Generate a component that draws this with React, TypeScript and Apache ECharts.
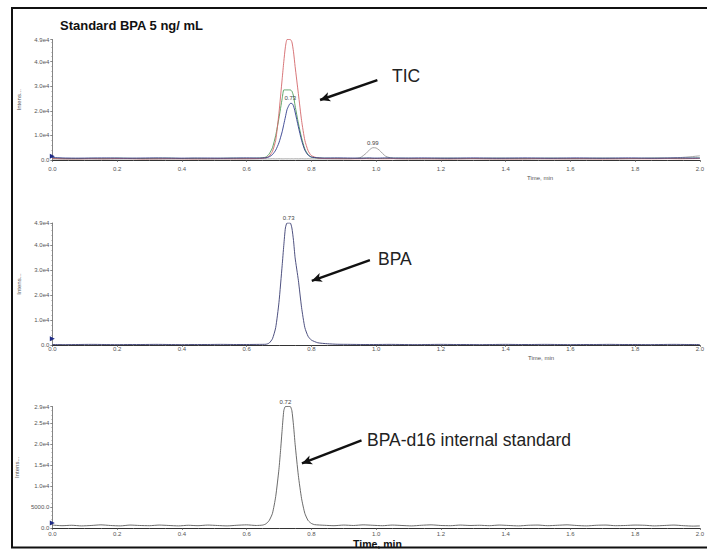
import React, { useEffect, useRef } from "react";
import * as echarts from "echarts";

// ---------- Panel 1: TIC ----------
const TOP_TIME = [
  0, 0.04, 0.08, 0.12, 0.16, 0.2, 0.24, 0.28, 0.32, 0.36, 0.4, 0.44, 0.48, 0.52, 0.56, 0.6, 0.64,
  0.66, 0.67, 0.68, 0.69, 0.7, 0.71, 0.715, 0.72, 0.725, 0.73, 0.735, 0.74, 0.745, 0.75, 0.76, 0.77, 0.78, 0.79, 0.8, 0.82, 0.84,
  0.88, 0.92, 0.95, 0.97, 0.98, 0.99, 1.0, 1.01, 1.03, 1.06,
  1.1, 1.14, 1.18, 1.22, 1.26, 1.3, 1.34, 1.38, 1.42, 1.46, 1.5, 1.54, 1.58, 1.62, 1.66, 1.7, 1.74, 1.78, 1.82, 1.86, 1.9, 1.94,
  1.97, 2.0,
];
const TIC_RED = [
  600, 500, 450, 550, 500, 600, 550, 450, 500, 550, 500, 450, 500, 550, 500, 550, 600,
  900, 1600, 3500, 8000, 19000, 33000, 40000, 46000, 49000, 49000, 49000, 48000, 44000, 38000, 27000, 16000, 8000, 3800, 1800, 800, 600,
  550, 500, 500, 550, 500, 500, 550, 500, 500, 550,
  500, 550, 500, 450, 500, 550, 500, 500, 450, 500, 550, 500, 500, 550, 500, 450, 500, 550, 500, 500, 550, 500,
  550, 600,
];
const TIC_GREEN = [
  700, 600, 550, 650, 600, 700, 650, 600, 650, 700, 600, 650, 600, 650, 700, 650, 750,
  1200, 2500, 5000, 10000, 17000, 25000, 28500, 28500, 28500, 28500, 28500, 28000, 26000, 22000, 15000, 9000, 4500, 2200, 1200, 800, 700,
  650, 600, 650, 700, 650, 600, 650, 600, 650, 700,
  650, 600, 650, 700, 650, 600, 650, 700, 650, 600, 650, 700, 650, 600, 650, 700, 650, 600, 650, 700, 650, 600,
  700, 800,
];
const TIC_BLUE = [
  1000, 800, 750, 800, 850, 800, 750, 800, 850, 800, 750, 800, 800, 750, 800, 850, 800,
  900, 1300, 2200, 4000, 7000, 11500, 14500, 17500, 20500, 22000, 23000, 23000, 22000, 19500, 13500, 8000, 4000, 2000, 1200, 900, 800,
  850, 800, 750, 800, 850, 800, 750, 800, 850, 800,
  800, 850, 800, 750, 800, 850, 800, 750, 800, 850, 800, 750, 800, 850, 800, 750, 800, 850, 800, 750, 800, 850,
  800, 800,
];
const TIC_GRAY = [
  400, 350, 450, 400, 350, 400, 450, 400, 350, 400, 450, 400, 350, 400, 450, 400, 450,
  450, 450, 500, 450, 500, 450, 450, 500, 450, 500, 450, 500, 450, 500, 450, 500, 450, 500, 450, 450, 450,
  450, 500, 900, 2800, 4200, 5000, 4900, 4000, 1500, 500,
  450, 400, 450, 400, 450, 500, 450, 400, 450, 400, 450, 500, 450, 400, 450, 500, 450, 500, 600, 700, 800, 1000,
  1300, 1700,
];

// ---------- Panel 2: BPA ----------
const MID_TIME = [
  0, 0.04, 0.08, 0.12, 0.16, 0.2, 0.24, 0.28, 0.32, 0.36, 0.4, 0.44, 0.48, 0.52, 0.56, 0.6, 0.64,
  0.66, 0.67, 0.68, 0.69, 0.7, 0.71, 0.715, 0.72, 0.725, 0.73, 0.735, 0.74, 0.745, 0.75, 0.76, 0.77, 0.78, 0.79, 0.8, 0.82, 0.85, 0.88,
  0.92, 0.96, 1.0, 1.04, 1.08, 1.12, 1.16, 1.2, 1.24, 1.28, 1.32, 1.36, 1.4, 1.44, 1.48, 1.52, 1.56, 1.6, 1.64, 1.68, 1.72, 1.76, 1.8, 1.84, 1.88, 1.92, 1.96, 2.0,
];
const MID_BPA = [
  200, 150, 200, 250, 200, 150, 200, 200, 250, 200, 150, 200, 200, 250, 200, 200, 250,
  300, 800, 2500, 7000, 17000, 32000, 40000, 47000, 49000, 49000, 49000, 47000, 42000, 35000, 26000, 15000, 7000, 3500, 2000, 900, 500, 300,
  250, 200, 200, 250, 200, 150, 200, 250, 200, 200, 150, 200, 250, 200, 200, 250, 200, 150, 200, 200, 250, 200, 200, 150, 200, 250, 200, 200,
];

// ---------- Panel 3: BPA-d16 ----------
const BOT_TIME = [
  0, 0.03, 0.06, 0.09, 0.12, 0.15, 0.18, 0.21, 0.24, 0.27, 0.3, 0.33, 0.36, 0.39, 0.42, 0.45, 0.48, 0.51, 0.54, 0.57, 0.6, 0.63,
  0.65, 0.66, 0.67, 0.68, 0.69, 0.7, 0.705, 0.71, 0.715, 0.72, 0.725, 0.73, 0.735, 0.74, 0.745, 0.75, 0.76, 0.77, 0.78, 0.79, 0.8, 0.81,
  0.84, 0.87, 0.9, 0.93, 0.96, 0.99, 1.02, 1.05, 1.08, 1.11, 1.14, 1.17, 1.2, 1.23, 1.26, 1.29, 1.32, 1.35, 1.38, 1.41, 1.44, 1.47, 1.5,
  1.53, 1.56, 1.59, 1.62, 1.65, 1.68, 1.71, 1.74, 1.77, 1.8, 1.83, 1.86, 1.89, 1.92, 1.95, 1.98, 2.0,
];
const BOT_D16 = [
  700, 550, 650, 500, 600, 750, 600, 500, 700, 600, 550, 700, 600, 500, 650, 550, 700, 600, 500, 650, 750, 600,
  700, 1000, 1800, 3500, 7500, 14000, 18500, 23500, 28000, 29000, 29000, 29000, 29000, 28000, 24500, 20000, 12500, 7000, 3500, 1800, 1100, 800,
  650, 550, 700, 600, 750, 650, 550, 700, 600, 500, 650, 750, 600, 550, 700, 600, 650, 550, 700, 600, 500, 650, 700,
  550, 650, 750, 600, 500, 650, 700, 550, 600, 700, 650, 500, 600, 700, 550, 450, 500,
];

const X_TICK_STEP = 0.2;
const Y_MAX = [49000, 49000, 29000];
const Y_STEP = [10000, 10000, 5000];

const pairs = (t: number[], v: number[]) => t.map((x, i) => [x, v[i]]);

const fmtY = (v: number) => {
  if (v === 0) return "0.0";
  if (v < 10000) return v.toFixed(1);
  return (v / 10000).toFixed(1) + "e4";
};

const FONT = '"Liberation Sans", Arial, sans-serif';

export default function App() {
  const ref = useRef<HTMLDivElement>(null);
  useEffect(() => {
    if (!ref.current) return;
    const chart = echarts.init(ref.current, null, { renderer: "svg" });
    const grids = [
      { left: 52.3, right: 1.5, top: 39.5, height: 120.5 },
      { left: 52.3, right: 1.5, top: 223, height: 122 },
      { left: 52.3, right: 1.5, top: 406.5, height: 121.5 },
    ];
    const xMargins = [5.5, 1, 3];
    const xAxis = grids.map((_, i) => ({
      type: "value",
      gridIndex: i,
      min: 0,
      max: 2,
      interval: X_TICK_STEP,
      axisLine: { show: true, onZero: false, lineStyle: { color: "#333", width: 1 } },
      axisTick: { show: true, length: 2, lineStyle: { color: "#555", width: 0.7 } },
      minorTick: { show: true, splitNumber: 4, length: 1, lineStyle: { color: "#777", width: 0.6 } },
      axisLabel: {
        fontSize: 6,
        color: "#555",
        margin: xMargins[i],
        fontFamily: FONT,
        formatter: (v: number) => v.toFixed(1),
      },
      splitLine: { show: false },
    }));
    const yAxis = grids.map((_, i) => ({
      type: "value",
      gridIndex: i,
      min: 0,
      max: Y_MAX[i],
      interval: Y_STEP[i],
      name: "Intens...",
      nameLocation: "middle",
      nameGap: 30,
      nameRotate: 90,
      nameTextStyle: { fontSize: 6, color: "#555", fontFamily: FONT },
      axisLine: { show: true, lineStyle: { color: "#666", width: 0.8 } },
      axisTick: { show: true, length: 2, lineStyle: { color: "#555", width: 0.7 } },
      minorTick: { show: true, splitNumber: 5, length: 1, lineStyle: { color: "#888", width: 0.6 } },
      axisLabel: { fontSize: 6, color: "#555", margin: 3, fontFamily: FONT, formatter: fmtY },
      splitLine: { show: false },
    }));

    const peakLabel = (coord: number[], text: string) => ({
      coord,
      symbol: "circle",
      symbolSize: 0,
      label: {
        show: true,
        position: "top",
        distance: 2,
        formatter: text,
        fontSize: 6,
        color: "#444",
        fontFamily: FONT,
      },
    });
    const startMarker = (coord: number[]) => ({
      coord,
      symbol: "triangle",
      symbolRotate: -90,
      symbolSize: [5, 5],
      itemStyle: { color: "#1f2b86" },
      label: { show: false },
    });
    const arrow = (from: number[], to: number[]) => ({
      silent: true,
      symbol: ["none", "arrow"],
      symbolSize: [7, 10],
      lineStyle: { color: "#111", width: 2.4, type: "solid" },
      label: { show: false },
      emphasis: { disabled: true },
      data: [[{ coord: from }, { coord: to }]],
    });

    const line = (name: string, g: number, data: number[][], color: string, extra: any = {}) => ({
      name,
      type: "line",
      xAxisIndex: g,
      yAxisIndex: g,
      data,
      showSymbol: false,
      smooth: 0.2,
      lineStyle: { color, width: 0.9 },
      itemStyle: { color },
      emphasis: { disabled: true },
      ...extra,
    });

    const option = {
      animation: false,
      backgroundColor: "#fff",
      grid: grids,
      xAxis,
      yAxis,
      series: [
        line("TIC gray", 0, pairs(TOP_TIME, TIC_GRAY), "#9a9a9a", {
          markPoint: { data: [peakLabel([TOP_TIME[43], TIC_GRAY[43]], "0.99")] },
        }),
        line("TIC green", 0, pairs(TOP_TIME, TIC_GREEN), "#4e9b5a"),
        line("TIC red", 0, pairs(TOP_TIME, TIC_RED), "#d4676a"),
        line("TIC blue", 0, pairs(TOP_TIME, TIC_BLUE), "#2f3b8c", {
          markPoint: {
            data: [
              peakLabel([TOP_TIME[27], TIC_BLUE[27]], "0.73"),
              startMarker([0, 1500]),
            ],
          },
          markLine: arrow([1.004, 32500], [0.827, 24400]),
        }),
        line("BPA", 1, pairs(MID_TIME, MID_BPA), "#3a3d72", {
          markPoint: {
            data: [
              peakLabel([MID_TIME[26], MID_BPA[26]], "0.73"),
              startMarker([0, 2500]),
            ],
          },
          markLine: arrow([0.981, 34100], [0.8015, 25800]),
        }),
        line("BPA-d16", 2, pairs(BOT_TIME, BOT_D16), "#5a5a5a", {
          markPoint: {
            data: [
              peakLabel([BOT_TIME[31], BOT_D16[31]], "0.72"),
              startMarker([0, 1200]),
            ],
          },
          markLine: arrow([0.955, 20900], [0.771, 15400]),
        }),
      ],
      graphic: [
        {
          type: "rect",
          z: 100,
          shape: { x: 12, y: 8, width: 700, height: 539.5 },
          style: { fill: "none", stroke: "#111", lineWidth: 2 },
        },
        {
          type: "text",
          x: 60,
          y: 25,
          style: {
            text: "Standard BPA 5 ng/ mL",
            font: `bold 13px ${FONT}`,
            fill: "#111",
            textAlign: "left",
            textVerticalAlign: "middle",
          },
        },
        {
          type: "text",
          x: 392,
          y: 75.5,
          style: { text: "TIC", font: `17.5px ${FONT}`, fill: "#222", textAlign: "left", textVerticalAlign: "middle" },
        },
        {
          type: "text",
          x: 378,
          y: 258.5,
          style: { text: "BPA", font: `17.5px ${FONT}`, fill: "#222", textAlign: "left", textVerticalAlign: "middle" },
        },
        {
          type: "text",
          x: 367,
          y: 439.5,
          style: {
            text: "BPA-d16 internal standard",
            font: `17.5px ${FONT}`,
            fill: "#222",
            textAlign: "left",
            textVerticalAlign: "middle",
          },
        },
        {
          type: "text",
          x: 540,
          y: 178,
          style: { text: "Time, min", font: `6px ${FONT}`, fill: "#555", textAlign: "center", textVerticalAlign: "middle" },
        },
        {
          type: "text",
          x: 541,
          y: 358,
          style: { text: "Time, min", font: `6px ${FONT}`, fill: "#555", textAlign: "center", textVerticalAlign: "middle" },
        },
        {
          type: "text",
          x: 353,
          y: 544,
          z: 101,
          style: {
            text: "Time, min",
            font: `bold 10.5px ${FONT}`,
            fill: "#111",
            textAlign: "left",
            textVerticalAlign: "middle",
          },
        },
      ],
    };
    chart.setOption(option as any);
    return () => chart.dispose();
  }, []);
  return (
    <div
      ref={ref}
      style={{ position: "absolute", left: 0, top: 0, width: 707, height: 549, background: "#fff" }}
    />
  );
}
